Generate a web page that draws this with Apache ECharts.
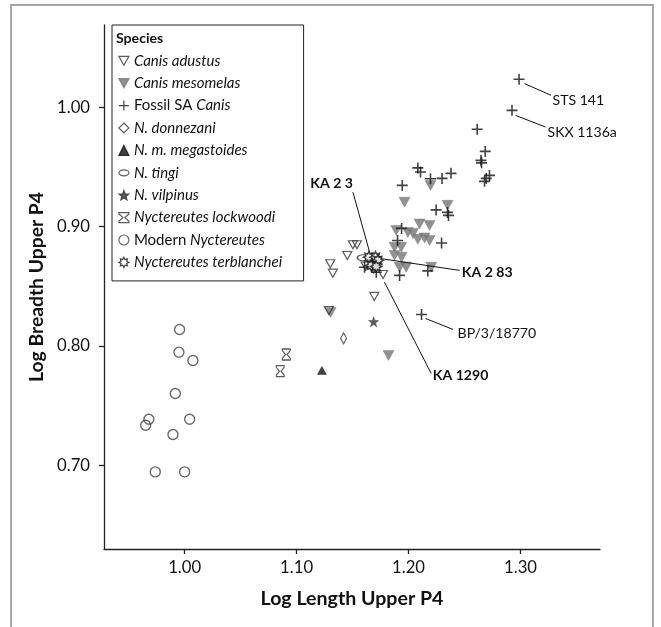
<!DOCTYPE html>
<html><head><meta charset="utf-8">
<script src="https://cdn.jsdelivr.net/npm/echarts@6/dist/echarts.min.js"></script>
<style>html,body{margin:0;padding:0;background:#fff}#c{width:661px;height:627px}</style>
</head><body><div id="c"></div>
<script>
// ---- data ----
const xTicks = [1.00, 1.10, 1.20, 1.30];
const yTicks = [0.70, 0.80, 0.90, 1.00];
const xRange = [0.928, 1.371];
const yRange = [0.630, 1.069];

const canisAdustus = [[1.1503,0.8849],[1.1539,0.8849],[1.1453,0.8759],[1.1301,0.8690],[1.1324,0.8611],[1.1694,0.8416],[1.1288,0.8298],[1.1616,0.8671],[1.1688,0.8646],[1.1772,0.8600]];
const canisMesomelas = [[1.2196,0.9346],[1.1964,0.9206],[1.2348,0.9179],[1.2098,0.9023],[1.2188,0.9011],[1.1890,0.8969],[1.1994,0.8952],[1.2040,0.8944],[1.2083,0.8894],[1.2143,0.8906],[1.2188,0.8885],[1.1875,0.8827],[1.1935,0.8827],[1.1875,0.8759],[1.1938,0.8745],[1.1920,0.8661],[1.1979,0.8661],[1.2203,0.8661],[1.1821,0.7921],[1.1304,0.8282]];
const fossilSACanis = [[1.2987,1.0235],[1.2924,0.9975],[1.2613,0.9816],[1.2685,0.9631],[1.2647,0.9556],[1.2652,0.9535],[1.2723,0.9430],[1.2694,0.9405],[1.2679,0.9380],[1.2379,0.9447],[1.2299,0.9405],[1.2196,0.9402],[1.2083,0.9493],[1.2107,0.9459],[1.1944,0.9346],[1.2246,0.9141],[1.2348,0.9120],[1.2357,0.9095],[1.1938,0.8986],[1.2295,0.8864],[1.1902,0.8885],[1.1920,0.8592],[1.2172,0.8630],[1.1607,0.8661],[1.1712,0.8619],[1.2116,0.8265]];
const fossilLabels = {0:'STS 141', 1:'SKX 1136a', 25:'BP/3/18770'};
const nDonnezani = [[1.1420,0.8064]];
const nMegastoides = [[1.1226,0.7796]];
const nTingi = [[1.1592,0.8740]];
const nVilpinus = [[1.1688,0.8204]];
const nLockwoodi = [[1.0908,0.7930],[1.0854,0.7790]];
const modernNyctereutes = [[0.9955,0.8139],[0.9949,0.7949],[1.0074,0.7879],[0.9917,0.7603],[0.9681,0.7387],[0.9652,0.7337],[1.0045,0.7387],[0.9896,0.7259],[0.9738,0.6946],[1.0000,0.6946]];
const nTerblanchei = [[1.1646,0.8745],[1.1705,0.8745],[1.1726,0.8718],[1.1667,0.8676],[1.1711,0.8667]];
const terblancheiLabels = {0:'KA 2 3', 2:'KA 2 83', 4:'KA 1290'};

// ---- styles ----
const FF = 'Lato';
const mctx = document.createElement('canvas').getContext('2d');
function textW(text, style, size){ mctx.font = style + ' ' + size + 'px ' + FF; return mctx.measureText(text).width; }
function fit(text, style, target){ return 20 * target / textW(text, style, 20); }
const tickFS = fit('1.00', 'normal', 33);
const xTitleFS = fit('Log Length Upper P4', 'bold', 183);
const yTitleFS = fit('Log Breadth Upper P4', 'bold', 190);
const legFS = fit('Canis adustus', 'italic', 86.7);
const specFS = fit('Species', 'bold', 47.3);
const labFS = fit('STS 141', 'normal', 51.7);

function starPath(n, ro, ri){
  let s = 'path://';
  for (let i = 0; i < 2*n; i++) {
    const r = i % 2 ? ri : ro, a = -Math.PI/2 + i*Math.PI/n;
    s += (i ? 'L' : 'M') + (ro + r*Math.cos(a)).toFixed(3) + ',' + (ro + r*Math.sin(a)).toFixed(3);
  }
  return s + 'Z';
}
const SYM = {
  triDown: 'path://M0,0L10,0L5,9Z',
  plus: 'path://M5,0L5,10M0,5L10,5',
  ellipse: 'path://M0,3A5,3,0,1,0,10,3A5,3,0,1,0,0,3Z',
  hourglass: 'path://M0,0L10,0L10,1.4L6,5L10,8.6L10,10L0,10L0,8.6L4,5L0,1.4Z',
  star5: starPath(5, 5, 2.1),
  sun: starPath(8, 5, 3.0)
};
const T = 'rgba(255,255,255,0)';
function sc(name, data, symbol, size, style, z){
  return {type:'scatter', name, data, symbol, symbolSize:size, itemStyle:style, z:z||2,
          emphasis:{disabled:true}, silent:true};
}
const series = [
  sc('Canis adustus', canisAdustus, SYM.triDown, [9,8], {color:T, borderColor:'#333', borderWidth:1.2}, 3),
  sc('Canis mesomelas', canisMesomelas, SYM.triDown, [11,10], {color:'#767676', borderColor:'#767676', borderWidth:0.5}, 2),
  sc('Fossil SA Canis', fossilSACanis, SYM.plus, [11,11], {color:T, borderColor:'#111', borderWidth:1.6}, 4),
  sc('N. donnezani', nDonnezani, 'diamond', [6,11], {color:T, borderColor:'#333', borderWidth:1.2}),
  sc('N. m. megastoides', nMegastoides, 'triangle', [9,8], {color:'#111', borderColor:'#111', borderWidth:0.5}),
  sc('N. tingi', nTingi, SYM.ellipse, [11,6], {color:T, borderColor:'#333', borderWidth:1.3}),
  sc('N. vilpinus', nVilpinus, SYM.star5, [10,10], {color:'#333', borderColor:'#333', borderWidth:0.5}),
  sc('Nyctereutes lockwoodi', nLockwoodi, SYM.hourglass, [8,11], {color:T, borderColor:'#333', borderWidth:1.2}),
  sc('Modern Nyctereutes', modernNyctereutes, 'circle', 10, {color:T, borderColor:'#444', borderWidth:1.4}),
  sc('Nyctereutes terblanchei', nTerblanchei, SYM.sun, [11,11], {color:'#fff', borderColor:'#111', borderWidth:1.5}, 5)
];

const legendRich = {
  i:{fontFamily:FF, fontSize:legFS, fontStyle:'italic', color:'#111', lineHeight:12},
  r:{fontFamily:FF, fontSize:legFS, fontStyle:'normal', color:'#111', lineHeight:12}
};
function legendFmt(name){
  if (name === 'Fossil SA Canis') return '{r|Fossil SA }{i|Canis}';
  if (name === 'Modern Nyctereutes') return '{r|Modern }{i|Nyctereutes}';
  return '{i|' + name + '}';
}
// legend box: left border at 112, right border at 303
const legLeft = 112, legRight = 303, legPadL = 6.3, legIconW = 10;
const legTextW = textW('Nyctereutes terblanchei', 'italic', legFS);
const legPadR = Math.max(2, legRight - (legLeft + legPadL + legIconW + 5 + legTextW));

const axisCommon = {
  type:'value',
  axisLine:{show:true, onZero:false, lineStyle:{color:'#222', width:1.3}},
  axisTick:{show:true, inside:false, length:5, lineStyle:{color:'#222', width:1.3}},
  splitLine:{show:false},
  nameLocation:'middle'
};

const chart = echarts.init(document.getElementById('c'));
chart.setOption({
  animation:false,
  backgroundColor:'#fff',
  grid:{left:104, right:61, top:25, bottom:78, containLabel:false},
  xAxis:Object.assign({}, axisCommon, {
    min:xRange[0], max:xRange[1], name:'Log Length Upper P4', nameGap:40,
    nameTextStyle:{fontFamily:FF, fontSize:xTitleFS, fontWeight:'bold', color:'#111'},
    axisTick:Object.assign({}, axisCommon.axisTick, {customValues:xTicks}),
    axisLabel:{customValues:xTicks, formatter:v=>v.toFixed(2), margin:10,
               fontFamily:FF, fontSize:tickFS, color:'#111'}
  }),
  yAxis:Object.assign({}, axisCommon, {
    min:yRange[0], max:yRange[1], name:'Log Breadth Upper P4', nameGap:58,
    nameTextStyle:{fontFamily:FF, fontSize:yTitleFS, fontWeight:'bold', color:'#111'},
    axisTick:Object.assign({}, axisCommon.axisTick, {customValues:yTicks}),
    axisLabel:{customValues:yTicks, formatter:v=>v.toFixed(2), margin:14,
               fontFamily:FF, fontSize:tickFS, color:'#111'}
  }),
  legend:{
    orient:'vertical', left:legLeft, top:25, padding:[28.3, legPadR, 11, legPadL],
    itemWidth:legIconW, itemHeight:10, itemGap:7.4, selectedMode:false,
    borderColor:'#222', borderWidth:1, backgroundColor:'#fff',
    itemStyle:{borderWidth:1.2},
    data:series.map(s=>s.name),
    formatter:legendFmt,
    textStyle:{fontFamily:FF, fontSize:legFS, color:'#111', lineHeight:12, rich:legendRich}
  },
  series:series,
  graphic:[
    {id:'frame', type:'rect', silent:true, shape:{x:11, y:5, width:642, height:640},
     style:{fill:'none', stroke:'#8c8c8c', lineWidth:1.5}, z:-1},
    {id:'species', type:'text', x:116, y:38.5, z:10,
     style:{text:'Species', font:'bold ' + specFS + 'px ' + FF, fill:'#111', verticalAlign:'middle'}}
  ]
});

// ---- specimen labels with leader lines (positions from the axes' scales) ----
const labelStyle = {
  'STS 141':   {dx:33.5, dy:21, align:'left', bold:false, l:[[5.5,4.3],[32,16]]},
  'SKX 1136a': {dx:35.5, dy:22, align:'left', bold:false, l:[[3.5,5],[33.5,16.7]]},
  'BP/3/18770':{dx:36, dy:19, align:'left', bold:false, l:[[4,4],[31.5,15]]},
  'KA 2 3':    {dx:-16, dy:-74, align:'right', bold:true, l:[[0.7,-5],[-16,-65]]},
  'KA 2 83':   {dx:84, dy:12, align:'left', bold:true, l:[[3.4,-1.7],[81.7,10]]},
  'KA 1290':   {dx:56.6, dy:109, align:'left', bold:true, l:[[8.3,15.7],[55,107]]}
};
const extra = [];
[[fossilSACanis, fossilLabels], [nTerblanchei, terblancheiLabels]].forEach(([arr, labs]) => {
  Object.keys(labs).forEach(k => {
    const name = labs[k], st = labelStyle[name];
    const p = chart.convertToPixel({xAxisIndex:0, yAxisIndex:0}, arr[k]);
    extra.push({id:'ln_'+name, type:'line', silent:true, z:6,
      shape:{x1:p[0]+st.l[0][0], y1:p[1]+st.l[0][1], x2:p[0]+st.l[1][0], y2:p[1]+st.l[1][1]},
      style:{stroke:'#111', lineWidth:1}});
    extra.push({id:'tx_'+name, type:'text', silent:true, z:6, x:p[0]+st.dx, y:p[1]+st.dy,
      style:{text:name, font:(st.bold?'bold ':'')+labFS.toFixed(2)+'px '+FF, fill:'#111', align:st.align, verticalAlign:'middle'}});
  });
});
chart.setOption({graphic:extra});
</script>
</body></html>
